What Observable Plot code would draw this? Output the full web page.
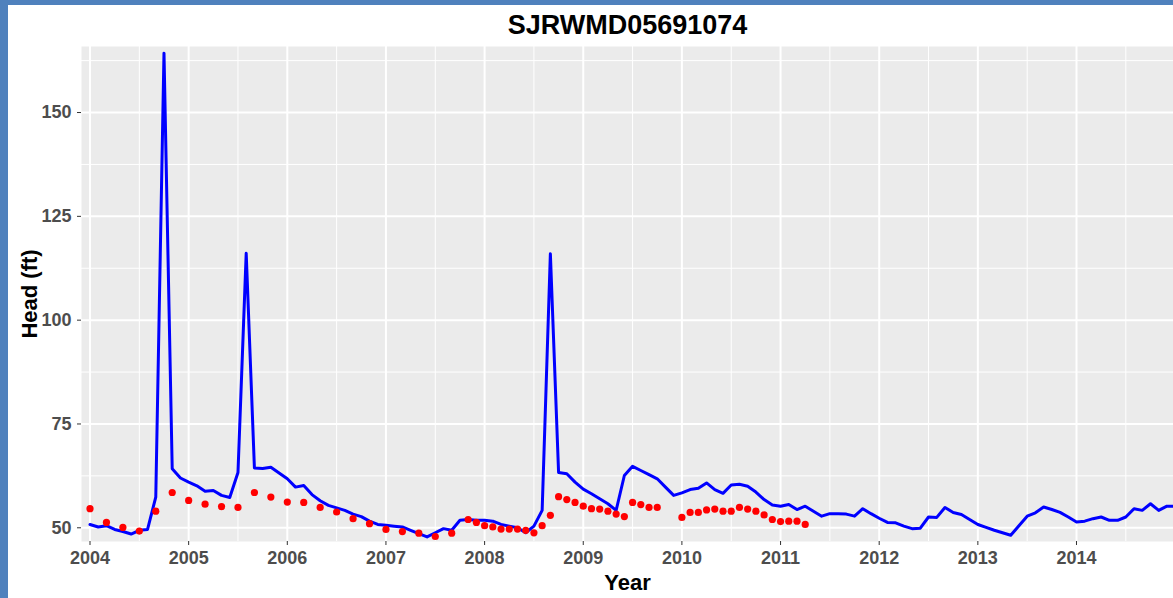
<!DOCTYPE html>
<html>
<head>
<meta charset="utf-8">
<script src="https://cdn.jsdelivr.net/npm/d3@7"></script>
<script src="https://cdn.jsdelivr.net/npm/@observablehq/plot@0.6"></script>
<style>
  html, body { margin: 0; padding: 0; background: white; }
  #wrap { position: relative; width: 1173px; height: 598px; overflow: hidden; }
  #wrap svg { position: absolute; left: 0; top: 0; }
  .edge { position: absolute; background: #4f81bd; }
</style>
</head>
<body>
<div id="wrap">
  <div id="chart"></div>
  <div class="edge" style="left:0;top:0;width:8px;height:598px;"></div>
  <div class="edge" style="left:0;top:0;width:1173px;height:5px;"></div>
</div>
<script>
// ---- data ----
const chartTitle = "SJRWMD05691074";
const xTitle = "Year";
const yTitle = "Head (ft)";

// Simulated head (blue line), monthly from Jan 2004
const simStartYear = 2004;
const simHead = [
  // 2004
  50.8, 50.2, 50.5, 49.6, 49.1, 48.5, 49.4, 49.6, 57.4, 164.3, 64.2, 62.0,
  // 2005
  61.0, 60.1, 58.8, 59.0, 57.8, 57.3, 63.3, 116.1, 64.4, 64.3, 64.6, 63.2,
  // 2006
  61.8, 59.8, 60.2, 58.0, 56.5, 55.4, 54.8, 54.2, 53.3, 52.7, 51.6, 50.8,
  // 2007
  50.6, 50.4, 50.2, 49.4, 48.6, 47.8, 48.8, 49.8, 49.4, 51.8, 52.0, 51.8,
  // 2008
  51.8, 51.6, 50.8, 50.4, 50.0, 48.8, 50.4, 54.2, 116.0, 63.3, 63.0, 61.0,
  // 2009
  59.3, 58.2, 57.0, 55.8, 54.2, 62.6, 64.8, 63.8, 62.8, 61.8, 59.8, 57.8,
  // 2010
  58.4, 59.2, 59.5, 60.8, 59.2, 58.3, 60.3, 60.5, 60.0, 58.6, 56.8, 55.5,
  // 2011
  55.2, 55.6, 54.4, 55.2, 54.0, 52.8, 53.4, 53.4, 53.3, 52.8, 54.6, 53.4,
  // 2012
  52.3, 51.3, 51.2, 50.4, 49.8, 49.9, 52.6, 52.5, 54.9, 53.7, 53.2, 52.0,
  // 2013
  50.8, 50.1, 49.4, 48.8, 48.2, 50.5, 52.8, 53.6, 55.0, 54.4, 53.7, 52.6,
  // 2014
  51.4, 51.6, 52.2, 52.6, 51.8, 51.8, 52.6, 54.6, 54.2, 55.8, 54.2, 55.2,
  // 2015
  55.2
];

// Observed head (red points)
const obsYear = [
  2004,2004,2004,2004,2004,2004,
  2005,2005,2005,2005,2005,2005,
  2006,2006,2006,2006,2006,2006,
  2007,2007,2007,2007,2007,2007,2007,
  2008,2008,2008,2008,2008,2008,2008,2008,2008,2008,2008,2008,
  2009,2009,2009,2009,2009,2009,2009,2009,2009,2009,
  2010,2010,2010,2010,2010,2010,2010,2010,2010,2010,2010,2010,
  2011,2011,2011,2011
];
const obsMonth = [
  1,3,5,7,9,11,
  1,3,5,7,9,11,
  1,3,5,7,9,11,
  1,3,5,7,9,11,12,
  1,2,3,4,5,6,7,8,9,10,11,12,
  1,2,3,4,5,6,7,8,9,10,
  1,2,3,4,5,6,7,8,9,10,11,12,
  1,2,3,4
];
const obsHead = [
  54.6, 51.3, 50.1, 49.2, 54.0, 58.5,
  56.6, 55.7, 55.1, 54.9, 58.5, 57.4,
  56.2, 56.1, 54.9, 53.8, 52.2, 51.0,
  49.6, 49.1, 48.7, 47.9, 48.7, 52.0, 51.3,
  50.5, 50.2, 49.7, 49.7, 49.7, 49.4, 48.8, 50.5, 53.0, 57.5, 56.8, 56.1,
  55.2, 54.6, 54.5, 54.0, 53.3, 52.7, 56.1, 55.6, 54.9, 54.9,
  52.5, 53.7, 53.7, 54.3, 54.5, 54.0, 54.0, 54.9, 54.5, 54.0, 53.1, 52.0,
  51.5, 51.6, 51.6, 50.8
];

const xTicks = [2004, 2005, 2006, 2007, 2008, 2009, 2010, 2011, 2012, 2013, 2014];
const xMinor = [2004.5, 2005.5, 2006.5, 2007.5, 2008.5, 2009.5, 2010.5, 2011.5, 2012.5, 2013.5, 2014.5];
const yTicks = [50, 75, 100, 125, 150];
const yMinor = [62.5, 87.5, 112.5, 137.5, 162.5];

// ---- build tables ----
const sim = simHead.map((h, i) => ({t: simStartYear + i / 12, h}));
const obs = obsHead.map((h, i) => ({t: obsYear[i] + (obsMonth[i] - 1) / 12, h}));

const font = "'Liberation Sans', Arial, Helvetica, sans-serif";

const plot = Plot.plot({
  width: 1173,
  height: 598,
  marginLeft: 81,
  marginRight: 0,
  marginTop: 46,
  marginBottom: 57,
  style: {background: "white", fontFamily: font, overflow: "visible"},
  x: {domain: [2003.9138, 2014.9833]},
  y: {domain: [46.7, 165.9]},
  marks: [
    Plot.frame({fill: "#ebebeb", stroke: null}),
    Plot.gridX(xMinor, {stroke: "white", strokeOpacity: 1, strokeWidth: 1}),
    Plot.gridY(yMinor, {stroke: "white", strokeOpacity: 1, strokeWidth: 1}),
    Plot.gridX(xTicks, {stroke: "white", strokeOpacity: 1, strokeWidth: 2}),
    Plot.gridY(yTicks, {stroke: "white", strokeOpacity: 1, strokeWidth: 2}),
    Plot.axisX(xTicks, {
      tickFormat: d => String(d), tickSize: 4, tickPadding: 6,
      stroke: "#333333", fill: "#4d4d4d", fontSize: 18, fontWeight: "bold", label: null
    }),
    Plot.axisY(yTicks, {
      tickFormat: d => String(d), tickSize: 4, tickPadding: 6,
      stroke: "#333333", fill: "#4d4d4d", fontSize: 18, fontWeight: "bold", label: null
    }),
    Plot.line(sim, {x: "t", y: "h", stroke: "#0000ff", strokeWidth: 3, clip: true}),
    Plot.dot(obs, {x: "t", y: "h", fill: "#ff0000", r: 3.6, stroke: null}),
    Plot.text([chartTitle], {frameAnchor: "top", dy: -21.6, lineAnchor: "middle", textAnchor: "middle",
      fontSize: 27, fontWeight: "bold", fill: "black"}),
    Plot.text([xTitle], {frameAnchor: "bottom", dy: 41, lineAnchor: "middle", textAnchor: "middle",
      fontSize: 22, fontWeight: "bold", fill: "black"}),
    Plot.text([yTitle], {frameAnchor: "left", dx: -51.5, rotate: -90, lineAnchor: "middle", textAnchor: "middle",
      fontSize: 22, fontWeight: "bold", fill: "black"})
  ]
});
document.getElementById("chart").appendChild(plot);
</script>
</body>
</html>
